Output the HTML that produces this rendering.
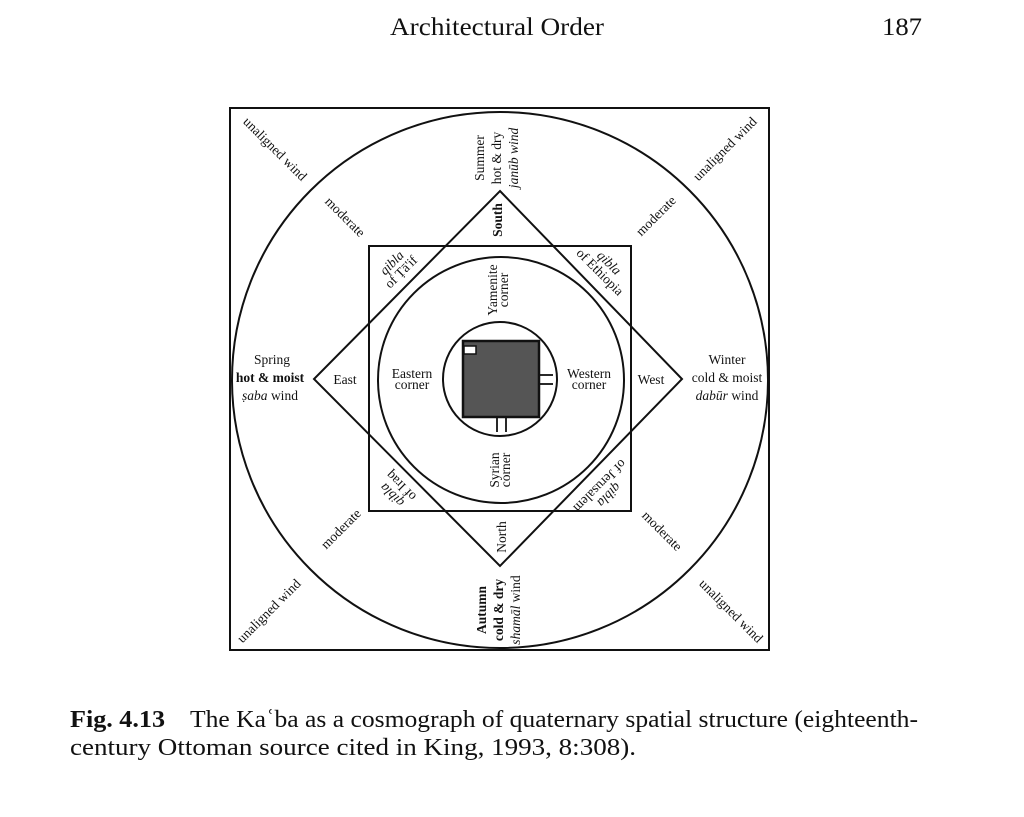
<!DOCTYPE html>
<html><head><meta charset="utf-8"><style>
html,body{margin:0;padding:0;background:#fff;}
svg{display:block;}
text{font-family:"Liberation Serif",serif;fill:#111;}
.d{font-size:13.5px;}
</style></head><body>
<svg width="1024" height="817" viewBox="0 0 1024 817" xmlns="http://www.w3.org/2000/svg">
<text x="390" y="35" font-size="25" textLength="214" lengthAdjust="spacingAndGlyphs">Architectural Order</text>
<text x="882" y="35" font-size="25" textLength="40" lengthAdjust="spacingAndGlyphs">187</text>

<g fill="none" stroke="#111" stroke-width="2">
<rect x="230" y="108" width="539" height="542"/>
<circle cx="500" cy="380" r="268"/>
<polygon points="500,191 682,379 500,566 314,379"/>
<rect x="369" y="246" width="262" height="265"/>
<circle cx="501" cy="380" r="123"/>
<circle cx="500" cy="379" r="57"/>
</g>
<rect x="463" y="341" width="76" height="76" fill="#555" stroke="#111" stroke-width="2.5"/>
<rect x="464" y="346" width="12" height="8" fill="#fff" stroke="#111" stroke-width="1.5"/>
<g stroke="#111" stroke-width="1.8">
<line x1="540" y1="375" x2="553" y2="375"/><line x1="540" y1="384" x2="553" y2="384"/>
<line x1="497" y1="418" x2="497" y2="432"/><line x1="506" y1="418" x2="506" y2="432"/>
</g>

<g class="d" text-anchor="middle">
<text x="272" y="364">Spring</text>
<text x="270" y="382" font-weight="bold">hot &amp; moist</text>
<text x="270" y="400"><tspan font-style="italic">ṣaba</tspan> wind</text>
<text x="345" y="384">East</text>
<text x="727" y="364">Winter</text>
<text x="727" y="382">cold &amp; moist</text>
<text x="727" y="400"><tspan font-style="italic">dabūr</tspan> wind</text>
<text x="651" y="384">West</text>
<text x="412" y="378">Eastern</text>
<text x="412" y="389">corner</text>
<text x="589" y="378">Western</text>
<text x="589" y="389">corner</text>

<g transform="translate(500,158) rotate(-90)">
<text x="0" y="-16">Summer</text>
<text x="0" y="1">hot &amp; dry</text>
<text x="0" y="18" font-style="italic">janūb wind</text>
</g>
<g transform="translate(500,610) rotate(-90)">
<text x="0" y="-14" font-weight="bold">Autumn</text>
<text x="0" y="3" font-weight="bold">cold &amp; dry</text>
<text x="0" y="20"><tspan font-style="italic">shamāl</tspan> wind</text>
</g>
<text transform="translate(502,220) rotate(-90)" font-weight="bold">South</text>
<text transform="translate(506,537) rotate(-90)">North</text>
<g transform="translate(498,290) rotate(-90)">
<text x="0" y="-1">Yamenite</text><text x="0" y="10">corner</text>
</g>
<g transform="translate(500,470) rotate(-90)">
<text x="0" y="-1">Syrian</text><text x="0" y="10">corner</text>
</g>

<text transform="translate(272,152) rotate(45)">unaligned wind</text>
<text transform="translate(728,152) rotate(-45)">unaligned wind</text>
<text transform="translate(272,614) rotate(-45)">unaligned wind</text>
<text transform="translate(728,614) rotate(45)">unaligned wind</text>
<text transform="translate(342,220) rotate(45)">moderate</text>
<text transform="translate(659,219) rotate(-45)">moderate</text>
<text transform="translate(344,532) rotate(-45)">moderate</text>
<text transform="translate(659,534) rotate(45)">moderate</text>

<g transform="translate(397,268) rotate(-45)">
<text x="0" y="-3" font-style="italic">qibla</text><text x="0" y="10">of Ṭā'if</text>
</g>
<g transform="translate(604,268) rotate(45)">
<text x="0" y="-3" font-style="italic">qibla</text><text x="0" y="10">of Ethiopia</text>
</g>
<g transform="translate(397,490) rotate(225)">
<text x="0" y="-3" font-style="italic">qibla</text><text x="0" y="10">of Iraq</text>
</g>
<g transform="translate(604,490) rotate(135)">
<text x="0" y="-3" font-style="italic">qibla</text><text x="0" y="10">of Jerusalem</text>
</g>
</g>

<text x="70" y="727" font-size="24" font-weight="bold" textLength="95" lengthAdjust="spacingAndGlyphs">Fig. 4.13</text>
<text x="190" y="727" font-size="24" textLength="728" lengthAdjust="spacingAndGlyphs">The Kaʿba as a cosmograph of quaternary spatial structure (eighteenth-</text>
<text x="70" y="755" font-size="24" textLength="566" lengthAdjust="spacingAndGlyphs">century Ottoman source cited in King, 1993, 8:308).</text>
</svg>
</body></html>
